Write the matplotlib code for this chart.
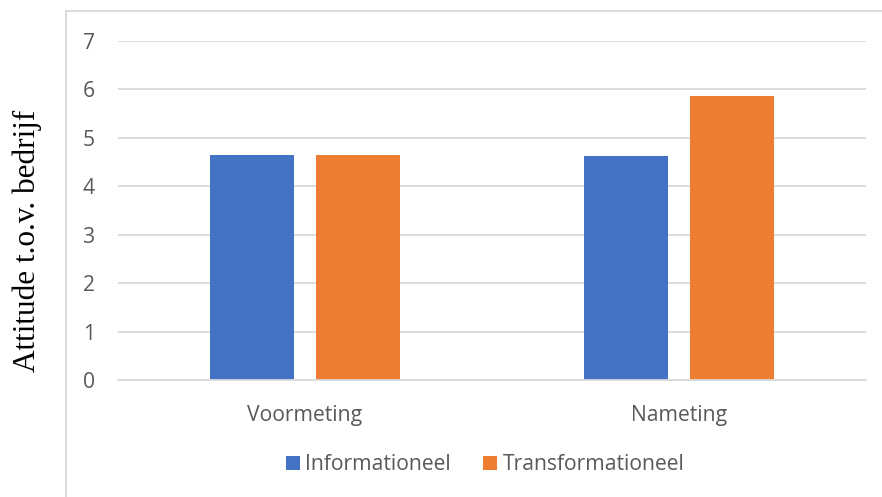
import numpy as np
import matplotlib
matplotlib.use("Agg")
from matplotlib import pyplot as plt
from matplotlib.lines import Line2D

categories = ['Voormeting', 'Nameting']
informationeel = [4.64, 4.62]
transformationeel = [4.65, 5.86]
series_names = ['Informationeel', 'Transformationeel']
colors = ['#4472C4', '#ED7D31']
yticks = [0, 1, 2, 3, 4, 5, 6, 7]

W, H = 882, 497
fig = plt.figure(figsize=(W / 100, H / 100), dpi=100)

# plot area in pixel coordinates
left, right, top, bottom = 118, 866, 41, 380
ax = fig.add_axes([left / W, 1 - bottom / H, (right - left) / W, (bottom - top) / H])

# chart border (left and top edge only visible)
grey = '#d9d9d9'
fig.add_artist(Line2D([66 / W, 66 / W], [0, 1 - 11 / H], color=grey, lw=1.3, transform=fig.transFigure))
fig.add_artist(Line2D([66 / W, 1], [1 - 11 / H, 1 - 11 / H], color=grey, lw=1.3, transform=fig.transFigure))

x = np.arange(len(categories))
w = 0.224
off = 0.141
ax.bar(x - off, informationeel, w, color=colors[0], zorder=3, label=series_names[0])
ax.bar(x + off, transformationeel, w, color=colors[1], zorder=3, label=series_names[1])

ax.set_xlim(-0.5, 1.5)
ax.set_ylim(0, 7)
ax.set_yticks(yticks)
ax.set_xticks(x)
ax.set_xticklabels(categories)

font = 'Open Sans'
fs = 15.2
for lbl in ax.get_xticklabels() + ax.get_yticklabels():
    lbl.set_fontfamily(font)
    lbl.set_fontsize(fs)
    lbl.set_color('#595959')

ax.tick_params(axis='both', length=0)
ax.tick_params(axis='y', pad=16.5)
ax.tick_params(axis='x', pad=18)
ax.grid(axis='y', color=grey, lw=1.3, zorder=0)
for s in ['left', 'right', 'top']:
    ax.spines[s].set_visible(False)
ax.spines['bottom'].set_color(grey)
ax.spines['bottom'].set_linewidth(1.3)
ax.spines['bottom'].set_zorder(4)

fig.text(27 / W, 1 - 241 / H, 'Attitude t.o.v. bedrijf', rotation=90,
         family='Liberation Serif', fontsize=22.5, ha='center', va='center', color='black')

leg = fig.legend(loc='center', bbox_to_anchor=(485 / W, 1 - 465 / H), ncol=2, frameon=False,
                 prop={'family': font, 'size': fs}, handlelength=0.68, handleheight=0.68,
                 handletextpad=0.25, columnspacing=1.5)
for t in leg.get_texts():
    t.set_color('#595959')

fig.savefig('out.png', dpi=100, facecolor='white')
